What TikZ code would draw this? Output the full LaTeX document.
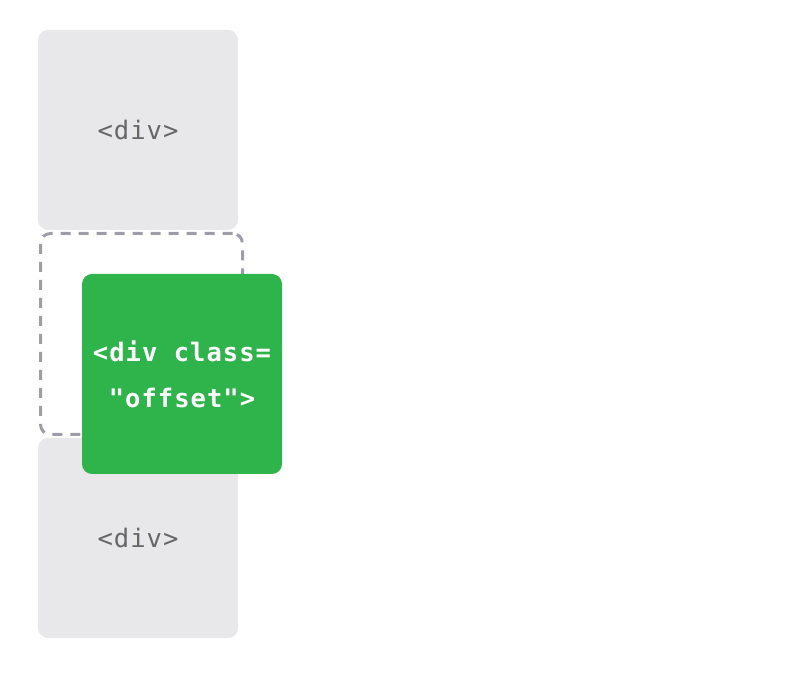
\documentclass[tikz,border=0pt]{standalone}
\usepackage{fontspec}
\setmonofont{DejaVu Sans Mono}
\newfontfamily\boxmono[LetterSpace=4]{DejaVu Sans Mono}
\definecolor{boxgray}{HTML}{E8E8EA}
\definecolor{txtgray}{HTML}{666666}
\definecolor{dashgray}{HTML}{9D9DAA}
\definecolor{boxgreen}{HTML}{2FB34B}
\begin{document}
\begin{tikzpicture}[x=1pt,y=1pt,
  graybox/.style={fill=boxgray, rounded corners=10pt, minimum width=200pt, minimum height=200pt, inner sep=0pt, text=txtgray, font=\boxmono\fontsize{25.5}{46}\selectfont},
  greenbox/.style={fill=boxgreen, rounded corners=10pt, minimum width=200pt, minimum height=200pt, inner sep=0pt, text=white, align=center, font=\boxmono\bfseries\fontsize{25.5}{46}\selectfont},
  ghost/.style={draw=dashgray, line width=3pt, dash pattern=on 10pt off 8pt, rounded corners=10pt, minimum width=202pt, minimum height=201pt, inner sep=0pt}]
\useasboundingbox (0,0) rectangle (794,674);
\node[graybox] (top) at (138,544) {<div>};
\node[ghost] (ghost) at (141.5,340) {};
\node[graybox] (bottom) at (138,136) {<div>};
\node[greenbox] (offset) at (182,300) {<div class=\\"offset">};
\end{tikzpicture}
\end{document}
